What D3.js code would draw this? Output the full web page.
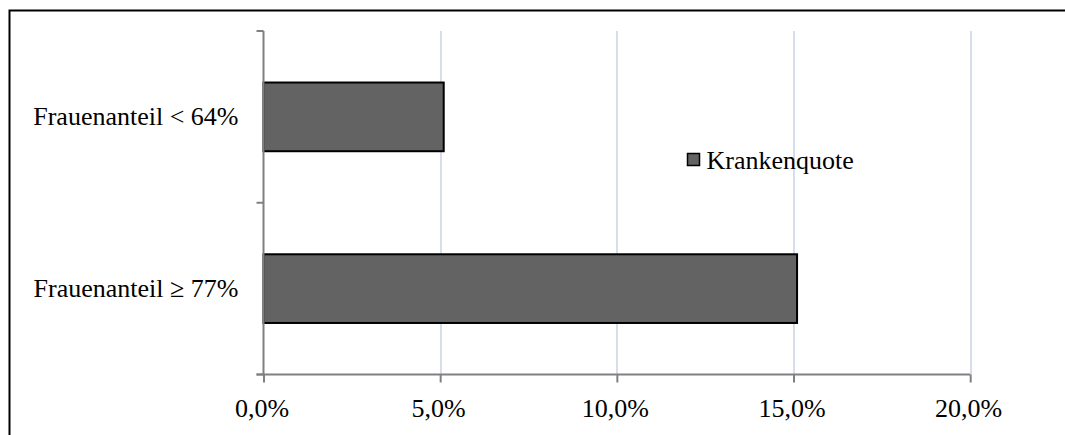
<!DOCTYPE html>
<html>
<head>
<meta charset="utf-8">
<script src="https://cdn.jsdelivr.net/npm/d3@7"></script>
<style>
  body { margin: 0; background: #fff; }
  text { font-family: "Liberation Serif", "Times New Roman", serif; fill: #000; }
</style>
</head>
<body>
<div id="vis"></div>
<script>
// Horizontal bar chart: Krankenquote by Frauenanteil

/* *************************** Data ***************************** */
var categories = ['Frauenanteil < 64%', 'Frauenanteil \u2265 77%'];
var values = [0.051, 0.151];
var xTicks = [0, 0.05, 0.10, 0.15, 0.20];
var seriesName = 'Krankenquote';

/* *************************** Settings ***************************** */
var width = 1065;
var height = 435;
var margin = { left: 263.5, right: 95, top: 31, bottom: 60.5 };
var drawWidth = width - margin.left - margin.right;
var drawHeight = height - margin.top - margin.bottom;
var fontSize = '26px';

var svg = d3.select('#vis')
    .append('svg')
    .attr('width', width)
    .attr('height', height);

// Outer frame (only top and left edges are visible in the crop)
svg.append('path')
    .attr('d', 'M9.5,' + height + 'V10.5H' + width)
    .attr('fill', 'none')
    .attr('stroke', '#000')
    .attr('stroke-width', 2);

var g = svg.append('g')
    .attr('transform', 'translate(' + margin.left + ',' + margin.top + ')');

/* *************************** Scales ***************************** */
var xScale = d3.scaleLinear()
    .domain([0, 0.20])
    .range([0, 706.7]);

var yScale = d3.scaleBand()
    .domain(categories)
    .range([0, drawHeight])
    .paddingInner(0.6)
    .paddingOuter(0.3);

var pct = function(d) {
    return d3.format('.1f')(d * 100).replace('.', ',') + '%';
};

/* *************************** Gridlines ***************************** */
g.selectAll('.grid')
    .data(xTicks.slice(1))
    .enter().append('line')
    .attr('class', 'grid')
    .attr('x1', function(d) { return Math.round(xScale(d)) + 0.5; })
    .attr('x2', function(d) { return Math.round(xScale(d)) + 0.5; })
    .attr('y1', 0)
    .attr('y2', drawHeight)
    .attr('stroke', '#c9d3e6')
    .attr('stroke-width', 1.5);

/* *************************** Bars ***************************** */
g.selectAll('rect.bar')
    .data(values)
    .enter().append('rect')
    .attr('class', 'bar')
    .attr('x', 0)
    .attr('y', function(d, i) { return yScale(categories[i]); })
    .attr('width', function(d) { return xScale(d); })
    .attr('height', yScale.bandwidth())
    .attr('fill', '#636363')
    .attr('stroke', '#000')
    .attr('stroke-width', 2);

/* *************************** Axes ***************************** */
var xAxis = d3.axisBottom(xScale)
    .tickValues(xTicks)
    .tickSize(8)
    .tickFormat(pct);

var xAxisG = g.append('g')
    .attr('transform', 'translate(0,' + drawHeight + ')')
    .call(xAxis);
xAxisG.select('.domain').attr('d', 'M-7,0H' + xScale(0.20));
xAxisG.selectAll('line').attr('y1', 0).attr('y2', 8);
xAxisG.selectAll('text')
    .attr('dy', 0)
    .attr('y', 42)
    .attr('x', -2)
    .style('font-size', fontSize)
    .style('font-family', '"Liberation Serif", serif');

// Y axis: line with ticks at band boundaries
var yAxisG = g.append('g');
yAxisG.append('line')
    .attr('x1', 0).attr('x2', 0)
    .attr('y1', 0).attr('y2', drawHeight);
var bounds = [0, drawHeight / 2, drawHeight];
yAxisG.selectAll('.ytick')
    .data(bounds)
    .enter().append('line')
    .attr('class', 'ytick')
    .attr('x1', -7).attr('x2', 0)
    .attr('y1', function(d) { return d; })
    .attr('y2', function(d) { return d; });
yAxisG.selectAll('line').attr('stroke', '#808080').attr('stroke-width', 2);

xAxisG.selectAll('line, path').attr('stroke', '#808080').attr('stroke-width', 2);

yAxisG.selectAll('.ylabel')
    .data(categories)
    .enter().append('text')
    .attr('class', 'ylabel')
    .attr('x', -25)
    .attr('y', function(d) { return yScale(d) + yScale.bandwidth() / 2 + 8; })
    .attr('text-anchor', 'end')
    .style('font-size', fontSize)
    .text(function(d) { return d; });

/* *************************** Legend ***************************** */
var legend = svg.append('g')
    .attr('transform', 'translate(687.5,153.5)');
legend.append('rect')
    .attr('width', 12)
    .attr('height', 12)
    .attr('fill', '#636363')
    .attr('stroke', '#000')
    .attr('stroke-width', 1.5);
legend.append('text')
    .attr('x', 19)
    .attr('y', 15)
    .style('font-size', fontSize)
    .text(seriesName);
</script>
</body>
</html>
